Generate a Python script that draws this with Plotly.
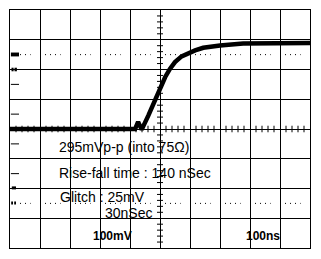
import plotly.graph_objects as go

# ---- data ----
time_ns = [0, 410, 417, 427, 439, 461, 483, 494, 506, 517, 533, 550, 572, 594, 617, 644, 700, 777, 1000]
volt_mv = [0, 0, 0, 24, -2, 45, 96, 118, 146, 174, 202, 225, 244, 255, 264, 273, 281, 287, 289]

notes = ["295mVp-p (into 75\u03a9)", "Rise-fall time : 140 nSec", "Glitch : 25mV", "30nSec"]
scale_labels = ["100mV", "100ns"]

X_RANGE = [0, 1000]
Y_RANGE = [-400, 400]
DIV_X = 100
DIV_Y = 100

fig = go.Figure()
fig.add_trace(go.Scatter(x=time_ns, y=volt_mv, mode="lines",
                         line=dict(color="black", width=4.5), hoverinfo="skip"))

shapes = []
# centre cross minor ticks
for k in range(-20, 21):
    if k % 5 == 0:
        continue
    yv = k * DIV_Y / 5
    shapes.append(dict(type="line", xref="x", yref="y", x0=490, x1=510, y0=yv, y1=yv,
                       line=dict(color="black", width=1), layer="below"))
for k in range(1, 50):
    if k % 5 == 0:
        continue
    xv = k * DIV_X / 5
    shapes.append(dict(type="line", xref="x", yref="y", x0=xv, x1=xv, y0=-11, y1=11,
                       line=dict(color="black", width=1), layer="below"))
# dotted reference lines
for lvl in (250, -250):
    for d in range(10):
        shapes.append(dict(type="line", xref="x", yref="y",
                           x0=d * 100 + 100 * 5 / 30, x1=d * 100 + 100 * 20.6 / 30,
                           y0=lvl, y1=lvl, line=dict(color="black", width=1, dash="1px,4px")))
# left edge small marks
for lvl in (150, 50, -50, -150):
    shapes.append(dict(type="line", xref="x", yref="y", x0=3, x1=30, y0=lvl, y1=lvl,
                       line=dict(color="black", width=1)))
# channel / level markers
shapes.append(dict(type="rect", xref="x", yref="y", x0=3, x1=30, y0=244, y1=257,
                   fillcolor="black", line=dict(width=0)))
shapes.append(dict(type="rect", xref="x", yref="y", x0=5, x1=12, y0=194, y1=206,
                   fillcolor="black", line=dict(width=0)))
shapes.append(dict(type="rect", xref="x", yref="y", x0=15, x1=23, y0=194, y1=206,
                   fillcolor="black", line=dict(width=0)))
shapes.append(dict(type="rect", xref="x", yref="y", x0=6, x1=20, y0=-203, y1=-193,
                   fillcolor="black", line=dict(width=0)))
shapes.append(dict(type="rect", xref="x", yref="y", x0=4, x1=10, y0=-254, y1=-244,
                   fillcolor="black", line=dict(width=0)))
shapes.append(dict(type="rect", xref="x", yref="y", x0=14, x1=20, y0=-254, y1=-244,
                   fillcolor="black", line=dict(width=0)))

ann = []
note_pos = [(157, -62), (157, -148), (160, -227), (310, -281)]
for t, (xx, yy) in zip(notes, note_pos):
    ann.append(dict(text=t, x=xx, y=yy, xref="x", yref="y", xanchor="left", yanchor="middle",
                    showarrow=False, font=dict(family="Liberation Sans, Arial", size=14, color="black")))
for t, (xx, yy) in zip(scale_labels, [(340, -358), (843, -360)]):
    ann.append(dict(text="<b>" + t + "</b>", x=xx, y=yy, xref="x", yref="y", xanchor="center",
                    yanchor="middle", showarrow=False,
                    font=dict(family="Liberation Sans, Arial", size=12, color="black")))

axis_common = dict(showgrid=True, gridcolor="black", gridwidth=1, showline=True, mirror=True,
                   linecolor="black", linewidth=1, ticks="", showticklabels=False,
                   zeroline=False, fixedrange=True)
fig.update_layout(
    width=321, height=259, autosize=False,
    margin=dict(l=10, r=11, t=10, b=11),
    paper_bgcolor="white", plot_bgcolor="white",
    showlegend=False,
    xaxis=dict(range=X_RANGE, dtick=DIV_X, tick0=0, **axis_common),
    yaxis=dict(range=Y_RANGE, dtick=DIV_Y, tick0=0, **axis_common),
    shapes=shapes, annotations=ann,
)
fig.write_html("out.html", config=dict(displayModeBar=False))
